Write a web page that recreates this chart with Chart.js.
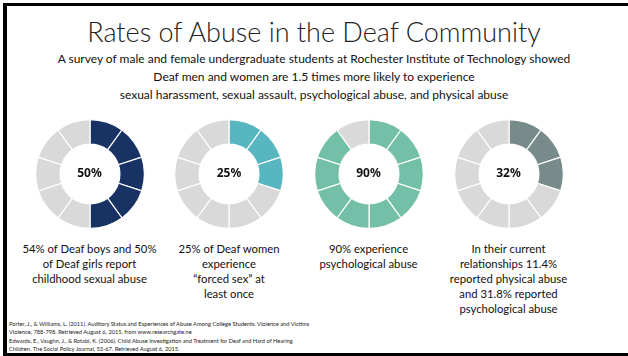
<!DOCTYPE html>
<html>
<head>
<meta charset="utf-8">
<script src="https://cdn.jsdelivr.net/npm/chart.js@4.4.0/dist/chart.umd.min.js"></script>
<style>
  html, body { margin: 0; padding: 0; background: #fff; }
  #page { position: relative; width: 628px; height: 356px; overflow: hidden; background: #fff; font-family: Lato, "Open Sans", sans-serif; color: #111; }
  .bar { position: absolute; background: #000; }
  .t { position: absolute; white-space: nowrap; text-align: center; }
  #title { left: 0; width: 628px; top: 14px; font-size: 27px; font-weight: 300; line-height: 36px; color: #222; }
  #sub { left: 0; width: 628px; top: 50px; font-size: 12px; line-height: 18px; color: #111; }
  .ring { position: absolute; width: 110px; height: 110px; }
  .pct { position: absolute; width: 60px; text-align: center; font-family: "Noto Sans", "Open Sans", sans-serif; font-weight: 700; font-size: 12px; line-height: 16px; color: #111; }
  .cap { position: absolute; width: 180px; text-align: center; font-size: 11.3px; line-height: 15px; color: #111; white-space: nowrap; }
  #refs { position: absolute; left: 9px; top: 318.5px; font-size: 11.4px; line-height: 17px; color: #222; white-space: nowrap; text-align: left; transform: scale(0.5); transform-origin: 0 0; }
</style>
</head>
<body>
<div id="page">
  <div class="bar" style="left:3px;top:3px;width:4px;height:353px;"></div>
  <div class="bar" style="left:3px;top:3px;width:625px;height:3px;"></div>
  <div class="bar" style="left:3px;top:352.5px;width:625px;height:4px;"></div>
  <div id="title" class="t"></div>
  <div id="sub" class="t"></div>
  <div id="rings"></div>
  <div id="refs"></div>
</div>
<script>
const titleText = 'Rates of Abuse in the Deaf Community';
const subtitleLines = [
  'A survey of male and female undergraduate students at Rochester Institute of Technology showed',
  'Deaf men and women are 1.5 times more likely to experience',
  'sexual harassment, sexual assault, psychological abuse, and physical abuse'
];
const categories = ['Childhood sexual abuse', 'Forced sex', 'Psychological abuse', 'Abuse in current relationships'];
const percentLabels = ['50%', '25%', '90%', '32%'];
const filledSegments = [5, 3, 9, 3];
const segmentCount = 10;
const ringColors = ['#173263', '#58b6c1', '#74bfa7', '#788b8b'];
const emptyColor = '#d9d9d9';
const captions = [
  ['54% of Deaf boys and 50%', 'of Deaf girls report', 'childhood sexual abuse'],
  ['25% of Deaf women', 'experience', '\u201cforced sex\u201d at', 'least once'],
  ['90% experience', 'psychological abuse'],
  ['In their current', 'relationships 11.4%', 'reported physical abuse', 'and 31.8% reported', 'psychological abuse']
];
const references = [
  'Porter, J., & Williams, L. (2011). Auditory Status and Experiences of Abuse Among College Students. Violence and Victims',
  'Violence, 788-798. Retrieved August 6, 2015, from www.researchgate.ne',
  'Edwards, E., Vaughn, J., & Rotabi, K. (2006). Child Abuse Investigation and Treatment for Deaf and Hard of Hearing',
  'Children. The Social Policy Journal, 53-67. Retrieved August 6, 2015.'
];

// layout (positions only)
const centersX = [89.5, 229, 368.5, 508.5];
const centerY = 173.5;
const captionTop = 241;

document.getElementById('title').textContent = titleText;
document.getElementById('sub').innerHTML = subtitleLines.map(s => s.replace(/&/g,'&amp;')).join('<br>');
document.getElementById('refs').innerHTML = references.map(s => s.replace(/&/g,'&amp;')).join('<br>');

const rings = document.getElementById('rings');
categories.forEach((cat, i) => {
  const cv = document.createElement('canvas');
  cv.className = 'ring';
  cv.width = 110; cv.height = 110;
  cv.style.left = (centersX[i] - 55) + 'px';
  cv.style.top = (centerY - 55) + 'px';
  rings.appendChild(cv);

  const pct = document.createElement('div');
  pct.className = 'pct';
  pct.textContent = percentLabels[i];
  pct.style.left = (centersX[i] - 30) + 'px';
  pct.style.top = (centerY - 8.5) + 'px';
  rings.appendChild(pct);

  const cap = document.createElement('div');
  cap.className = 'cap';
  cap.innerHTML = captions[i].join('<br>');
  cap.style.left = (centersX[i] - 90) + 'px';
  cap.style.top = captionTop + 'px';
  rings.appendChild(cap);

  const values = [];
  const colors = [];
  for (let k = 0; k < segmentCount; k++) {
    values.push(1);
    colors.push(k < filledSegments[i] ? ringColors[i] : emptyColor);
  }

  new Chart(cv, {
    type: 'doughnut',
    data: {
      labels: values.map((_, k) => cat + ' ' + (k + 1)),
      datasets: [{
        data: values,
        backgroundColor: colors,
        borderColor: '#ffffff',
        borderWidth: 1.2,
        hoverOffset: 0
      }]
    },
    options: {
      responsive: false,
      animation: false,
      cutout: '55%',
      layout: { padding: 0 },
      plugins: { legend: { display: false }, tooltip: { enabled: false } }
    }
  });
});
</script>
</body>
</html>
